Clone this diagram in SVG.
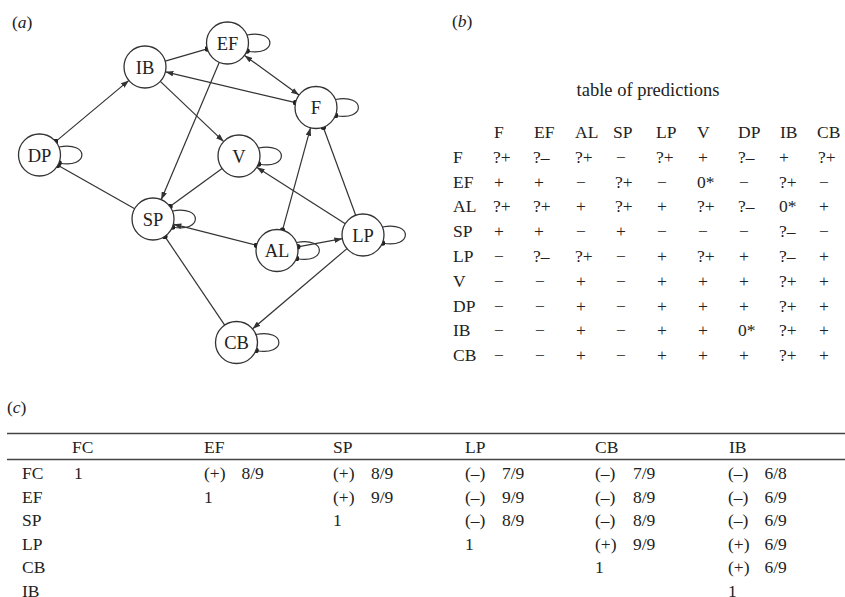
<svg xmlns="http://www.w3.org/2000/svg" width="845" height="597" viewBox="0 0 845 597">
<style>
text{font-family:"Liberation Serif","Times New Roman",serif;fill:#222}
.lbl{font-size:18.5px;text-anchor:middle}
.t{font-size:17.5px}
.it{font-style:italic}
.node circle{fill:#fff;stroke:#333;stroke-width:1.3}
.e{fill:none;stroke:#333;stroke-width:1.2}
.rule{stroke:#444;stroke-width:1.3}
</style>
<defs>
<marker id="arr" viewBox="0 0 10 7" refX="10" refY="3.5" markerWidth="8" markerHeight="5.6" markerUnits="userSpaceOnUse" orient="auto-start-reverse"><path d="M0,0 L10,3.5 L0,7 z" fill="#333"/></marker>
<marker id="dot" viewBox="0 0 6 6" refX="3" refY="3" markerWidth="5.6" markerHeight="5.6" markerUnits="userSpaceOnUse"><circle cx="3" cy="3" r="3" fill="#222"/></marker>
</defs>
<rect width="845" height="597" fill="#fff"/>

<text class="t" x="12" y="28">(<tspan class="it">a</tspan>)</text>
<text class="t" x="452" y="27">(<tspan class="it">b</tspan>)</text>
<text class="t" x="7" y="413">(<tspan class="it">c</tspan>)</text>

<g id="connectors">
<line class="e" x1="55.6" y1="141.6" x2="128.9" y2="80.4" marker-start="url(#dot)" marker-end="url(#arr)"/>
<line class="e" x1="165.2" y1="61.1" x2="207.3" y2="48.9" marker-end="url(#dot)"/>
<line class="e" x1="295.6" y1="102.7" x2="165.4" y2="71.8" marker-start="url(#dot)" marker-end="url(#arr)"/>
<line class="e" x1="244.5" y1="55.4" x2="299" y2="95.1" marker-start="url(#arr)" marker-end="url(#arr)"/>
<line class="e" x1="160.3" y1="81.4" x2="223.7" y2="141.6" marker-end="url(#arr)"/>
<line class="e" x1="219.3" y1="62.3" x2="161.2" y2="199.7" marker-end="url(#arr)"/>
<line class="e" x1="222.1" y1="168.4" x2="169.9" y2="206.6" marker-end="url(#dot)"/>
<line class="e" x1="134.7" y1="208.7" x2="57.8" y2="165.3" marker-end="url(#dot)"/>
<line class="e" x1="256.6" y1="245.3" x2="173.4" y2="224.2" marker-start="url(#dot)" marker-end="url(#arr)"/>
<line class="e" x1="164.8" y1="236.4" x2="224.7" y2="325.1" marker-start="url(#dot)"/>
<line class="e" x1="282.5" y1="230.2" x2="310.5" y2="127.8" marker-start="url(#dot)" marker-end="url(#arr)"/>
<line class="e" x1="355.7" y1="215.3" x2="323.3" y2="127.2" marker-end="url(#dot)"/>
<line class="e" x1="345.3" y1="223.7" x2="256.7" y2="167.3" marker-end="url(#arr)"/>
<line class="e" x1="297.7" y1="246.8" x2="342.3" y2="238.7" marker-start="url(#dot)" marker-end="url(#arr)"/>
<line class="e" x1="347" y1="248.6" x2="252.5" y2="328.9" marker-end="url(#arr)"/>
<path class="e" d="M247,35 C277.5,29 277.5,57 247,51" marker-end="url(#dot)"/>
<path class="e" d="M335.5,99.5 C366,93.5 366,121.5 335.5,115.5" marker-end="url(#dot)"/>
<path class="e" d="M59,147 C89.5,141 89.5,169 59,163" marker-end="url(#dot)"/>
<path class="e" d="M258.5,148 C289,142 289,170 258.5,164" marker-end="url(#dot)"/>
<path class="e" d="M172.5,211 C203,205 203,233 172.5,227" marker-end="url(#dot)"/>
<path class="e" d="M296.5,242.5 C327,236.5 327,264.5 296.5,258.5" marker-end="url(#dot)"/>
<path class="e" d="M382.5,227 C413,221 413,249 382.5,243" marker-end="url(#dot)"/>
<path class="e" d="M256,334.5 C286.5,328.5 286.5,356.5 256,350.5" marker-end="url(#dot)"/>
</g>

<g id="node-IB" class="node"><circle cx="145" cy="67" r="21"/><text class="lbl" x="145" y="73.5">IB</text></g>
<g id="node-EF" class="node"><circle cx="227.5" cy="43" r="21"/><text class="lbl" x="227.5" y="49.5">EF</text></g>
<g id="node-F" class="node"><circle cx="316" cy="107.5" r="21"/><text class="lbl" x="316" y="114">F</text></g>
<g id="node-DP" class="node"><circle cx="39.5" cy="155" r="21"/><text class="lbl" x="39.5" y="161.5">DP</text></g>
<g id="node-V" class="node"><circle cx="239" cy="156" r="21"/><text class="lbl" x="239" y="162.5">V</text></g>
<g id="node-SP" class="node"><circle cx="153" cy="219" r="21"/><text class="lbl" x="153" y="225.5">SP</text></g>
<g id="node-AL" class="node"><circle cx="277" cy="250.5" r="21"/><text class="lbl" x="277" y="257">AL</text></g>
<g id="node-LP" class="node"><circle cx="363" cy="235" r="21"/><text class="lbl" x="363" y="241.5">LP</text></g>
<g id="node-CB" class="node"><circle cx="236.5" cy="342.5" r="21"/><text class="lbl" x="236.5" y="349">CB</text></g>

<g id="table-b" class="t">
<text x="648" y="96" style="font-size:18.5px;text-anchor:middle">table of predictions</text>
<text y="138"><tspan x="494">F</tspan><tspan x="534">EF</tspan><tspan x="575">AL</tspan><tspan x="613">SP</tspan><tspan x="656">LP</tspan><tspan x="697">V</tspan><tspan x="738">DP</tspan><tspan x="780">IB</tspan><tspan x="817">CB</tspan></text>
<text y="162.8"><tspan x="453">F</tspan><tspan x="493">?+</tspan><tspan x="533">?–</tspan><tspan x="575">?+</tspan><tspan x="616">−</tspan><tspan x="656">?+</tspan><tspan x="698">+</tspan><tspan x="738">?–</tspan><tspan x="779">+</tspan><tspan x="818">?+</tspan></text>
<text y="187.6"><tspan x="453">EF</tspan><tspan x="494">+</tspan><tspan x="534">+</tspan><tspan x="576">−</tspan><tspan x="615">?+</tspan><tspan x="657">−</tspan><tspan x="697">0*</tspan><tspan x="739">−</tspan><tspan x="779">?+</tspan><tspan x="819">−</tspan></text>
<text y="212.4"><tspan x="453">AL</tspan><tspan x="493">?+</tspan><tspan x="533">?+</tspan><tspan x="576">+</tspan><tspan x="615">?+</tspan><tspan x="657">+</tspan><tspan x="697">?+</tspan><tspan x="738">?–</tspan><tspan x="779">0*</tspan><tspan x="819">+</tspan></text>
<text y="237.2"><tspan x="453">SP</tspan><tspan x="494">+</tspan><tspan x="534">+</tspan><tspan x="576">−</tspan><tspan x="616">+</tspan><tspan x="657">−</tspan><tspan x="698">−</tspan><tspan x="739">−</tspan><tspan x="779">?–</tspan><tspan x="819">−</tspan></text>
<text y="262"><tspan x="453">LP</tspan><tspan x="494">−</tspan><tspan x="533">?–</tspan><tspan x="575">?+</tspan><tspan x="616">−</tspan><tspan x="657">+</tspan><tspan x="697">?+</tspan><tspan x="739">+</tspan><tspan x="779">?–</tspan><tspan x="819">+</tspan></text>
<text y="286.8"><tspan x="453">V</tspan><tspan x="494">−</tspan><tspan x="535">−</tspan><tspan x="576">+</tspan><tspan x="616">−</tspan><tspan x="657">+</tspan><tspan x="698">+</tspan><tspan x="739">+</tspan><tspan x="779">?+</tspan><tspan x="819">+</tspan></text>
<text y="311.6"><tspan x="453">DP</tspan><tspan x="494">−</tspan><tspan x="535">−</tspan><tspan x="576">+</tspan><tspan x="616">−</tspan><tspan x="657">+</tspan><tspan x="698">+</tspan><tspan x="739">+</tspan><tspan x="779">?+</tspan><tspan x="819">+</tspan></text>
<text y="336.4"><tspan x="453">IB</tspan><tspan x="494">−</tspan><tspan x="535">−</tspan><tspan x="576">+</tspan><tspan x="616">−</tspan><tspan x="657">+</tspan><tspan x="698">+</tspan><tspan x="738">0*</tspan><tspan x="779">?+</tspan><tspan x="819">+</tspan></text>
<text y="361.2"><tspan x="453">CB</tspan><tspan x="494">−</tspan><tspan x="535">−</tspan><tspan x="576">+</tspan><tspan x="616">−</tspan><tspan x="657">+</tspan><tspan x="698">+</tspan><tspan x="739">+</tspan><tspan x="779">?+</tspan><tspan x="819">+</tspan></text>
</g>

<g id="table-c" class="t">
<line class="rule" x1="7" y1="433.5" x2="845" y2="433.5"/>
<line class="rule" x1="7" y1="459.5" x2="845" y2="459.5"/>
<text y="453"><tspan x="72">FC</tspan><tspan x="204">EF</tspan><tspan x="333">SP</tspan><tspan x="465">LP</tspan><tspan x="595">CB</tspan><tspan x="729">IB</tspan></text>
<text y="479"><tspan x="22">FC</tspan><tspan x="74">1</tspan><tspan x="204">(+)</tspan><tspan x="241.5">8/9</tspan><tspan x="333">(+)</tspan><tspan x="371">8/9</tspan><tspan x="465">(–)</tspan><tspan x="502">7/9</tspan><tspan x="595">(–)</tspan><tspan x="633">7/9</tspan><tspan x="728">(–)</tspan><tspan x="764.5">6/8</tspan></text>
<text y="502.6"><tspan x="22">EF</tspan><tspan x="204">1</tspan><tspan x="333">(+)</tspan><tspan x="371">9/9</tspan><tspan x="465">(–)</tspan><tspan x="502">9/9</tspan><tspan x="595">(–)</tspan><tspan x="633">8/9</tspan><tspan x="728">(–)</tspan><tspan x="764.5">6/9</tspan></text>
<text y="526.2"><tspan x="22">SP</tspan><tspan x="333">1</tspan><tspan x="465">(–)</tspan><tspan x="502">8/9</tspan><tspan x="595">(–)</tspan><tspan x="633">8/9</tspan><tspan x="728">(–)</tspan><tspan x="764.5">6/9</tspan></text>
<text y="549.8"><tspan x="22">LP</tspan><tspan x="465">1</tspan><tspan x="595">(+)</tspan><tspan x="633">9/9</tspan><tspan x="728">(+)</tspan><tspan x="764.5">6/9</tspan></text>
<text y="573.4"><tspan x="22">CB</tspan><tspan x="595">1</tspan><tspan x="728">(+)</tspan><tspan x="764.5">6/9</tspan></text>
<text y="597"><tspan x="22">IB</tspan><tspan x="728">1</tspan></text>
</g>
</svg>
